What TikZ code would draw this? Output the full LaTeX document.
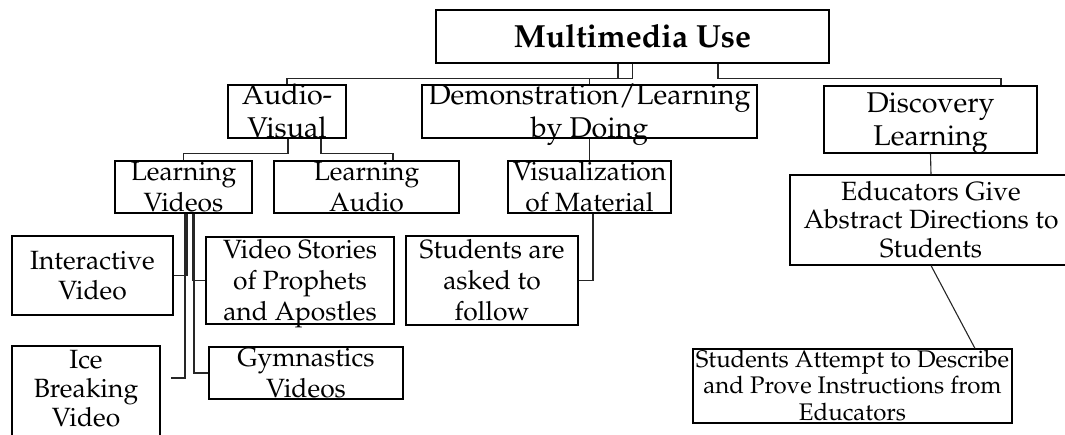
\documentclass[tikz,border=0pt]{standalone}
\usepackage[T1]{fontenc}
\usepackage{mathpazo}
\usepackage{tikz}

% text lines centred in a box, taking no height
\newcommand{\boxlines}[1]{\smash{\raisebox{-.36em}{\begin{tabular}{@{}c@{}}#1\end{tabular}}}}

\tikzset{
  box/.style={draw, inner sep=0pt, line width=0.55pt},
  link/.style={draw=black!85, line width=0.55pt},
  lvtop/.style={font=\fontsize{16}{19}\selectfont\bfseries},
  lvtwo/.style={font=\fontsize{14.3}{16.5}\selectfont},
  lvthree/.style={font=\fontsize{13.2}{15.3}\selectfont},
  lvfour/.style={font=\fontsize{12}{13.2}\selectfont},
}

\begin{document}
\begin{tikzpicture}[x=0.5pt,y=-0.5pt]
            \clip (0,0) rectangle (1065,434);

            % Top
            \node[box,lvtop,minimum width=196.5pt,minimum height=26.5pt] (mm) at (632.5,36.5) {\boxlines{Multimedia Use}};

            % Second row
            \node[box,lvtwo,minimum width=59pt,minimum height=26.5pt] (av) at (287,111.5) {\boxlines{Audio-\\Visual}};
            \node[box,lvtwo,minimum width=167.5pt,minimum height=26.5pt] (demo) at (589.5,111.5) {\boxlines{Demonstration/Learning\\by Doing}};
            \node[box,lvtwo,minimum width=106.5pt,minimum height=33.5pt] (disc) at (930.5,119.5) {\boxlines{Discovery\\Learning}};

            % Third row
            \node[box,lvthree,minimum width=68.5pt,minimum height=26pt] (lv) at (183.5,187) {\boxlines{Learning\\Videos}};
            \node[box,lvthree,minimum width=92.5pt,minimum height=26pt] (la) at (366.5,187) {\boxlines{Learning\\Audio}};
            \node[box,lvthree,minimum width=81.5pt,minimum height=26pt] (vis) at (589.5,187) {\boxlines{Visualization\\of Material}};
            \node[box,lvthree,font=\fontsize{13.2}{14.3}\selectfont,minimum width=141pt,minimum height=45pt] (edu) at (931,220) {\boxlines{Educators Give\\Abstract Directions to\\Students}};

            % Leaves
            \node[box,lvthree,minimum width=80.5pt,minimum height=39.5pt] (inter) at (92.5,275.5) {\boxlines{Interactive\\Video}};
            \node[box,font=\fontsize{13.2}{14.5}\selectfont,minimum width=74pt,minimum height=49pt] (ice) at (86,395) {\smash{\raisebox{3pt}{\boxlines{Ice\\Breaking\\Video}}}};
            \node[box,lvthree,minimum width=94pt,minimum height=43.5pt] (vstor) at (300,280.5) {\boxlines{Video Stories\\of Prophets\\and Apostles}};
            \node[box,lvthree,minimum width=97pt,minimum height=26pt] (gym) at (306,373) {\boxlines{Gymnastics\\Videos}};
            \node[box,lvthree,minimum width=86pt,minimum height=44.5pt] (sask) at (492,280.5) {\boxlines{Students are\\asked to\\follow}};
            \node[box,lvfour,minimum width=159.5pt,minimum height=37pt] (stud) at (852.5,386) {\boxlines{Students Attempt to Describe\\and Prove Instructions from\\Educators}};

            % Links from the top
            \draw[link] ([xshift=-7.25pt]mm.south) -- ++(0,15) -| (av.north);
            \draw[link] (mm.south) -- ++(0,15) -| (demo.north);
            \draw[link] ([xshift=42.75pt]mm.south) -- ++(0,15) -| ([xshift=35.25pt]disc.north);

            % Links below
            \draw[link] ([xshift=0.5pt]av.south) -- ++(0,15) -| (lv.north);
            \draw[link] ([xshift=17pt]av.south) -- ++(0,15) -| ([xshift=13.25pt]la.north);
            \draw[link] (demo.south) -- (vis.north);
            \draw[link] (disc.south) -- (edu.north);
            \draw[link] (edu.south) -- ([xshift=61.25pt]stud.north);
            \draw[link] ([xshift=1.75pt]vis.south) |- (sask.east);

            % Video links
            \draw[link] ([xshift=1.75pt]lv.south) |- (inter.east);
            \draw[link] ([xshift=0.75pt]lv.south) |- ([xshift=5pt,yshift=8.5pt]ice.east);
            \draw[link] ([xshift=4.75pt]lv.south) |- (vstor.west);
            \draw[link] ([xshift=5.25pt]lv.south) |- (gym.west);
        \end{tikzpicture}
\end{document}
